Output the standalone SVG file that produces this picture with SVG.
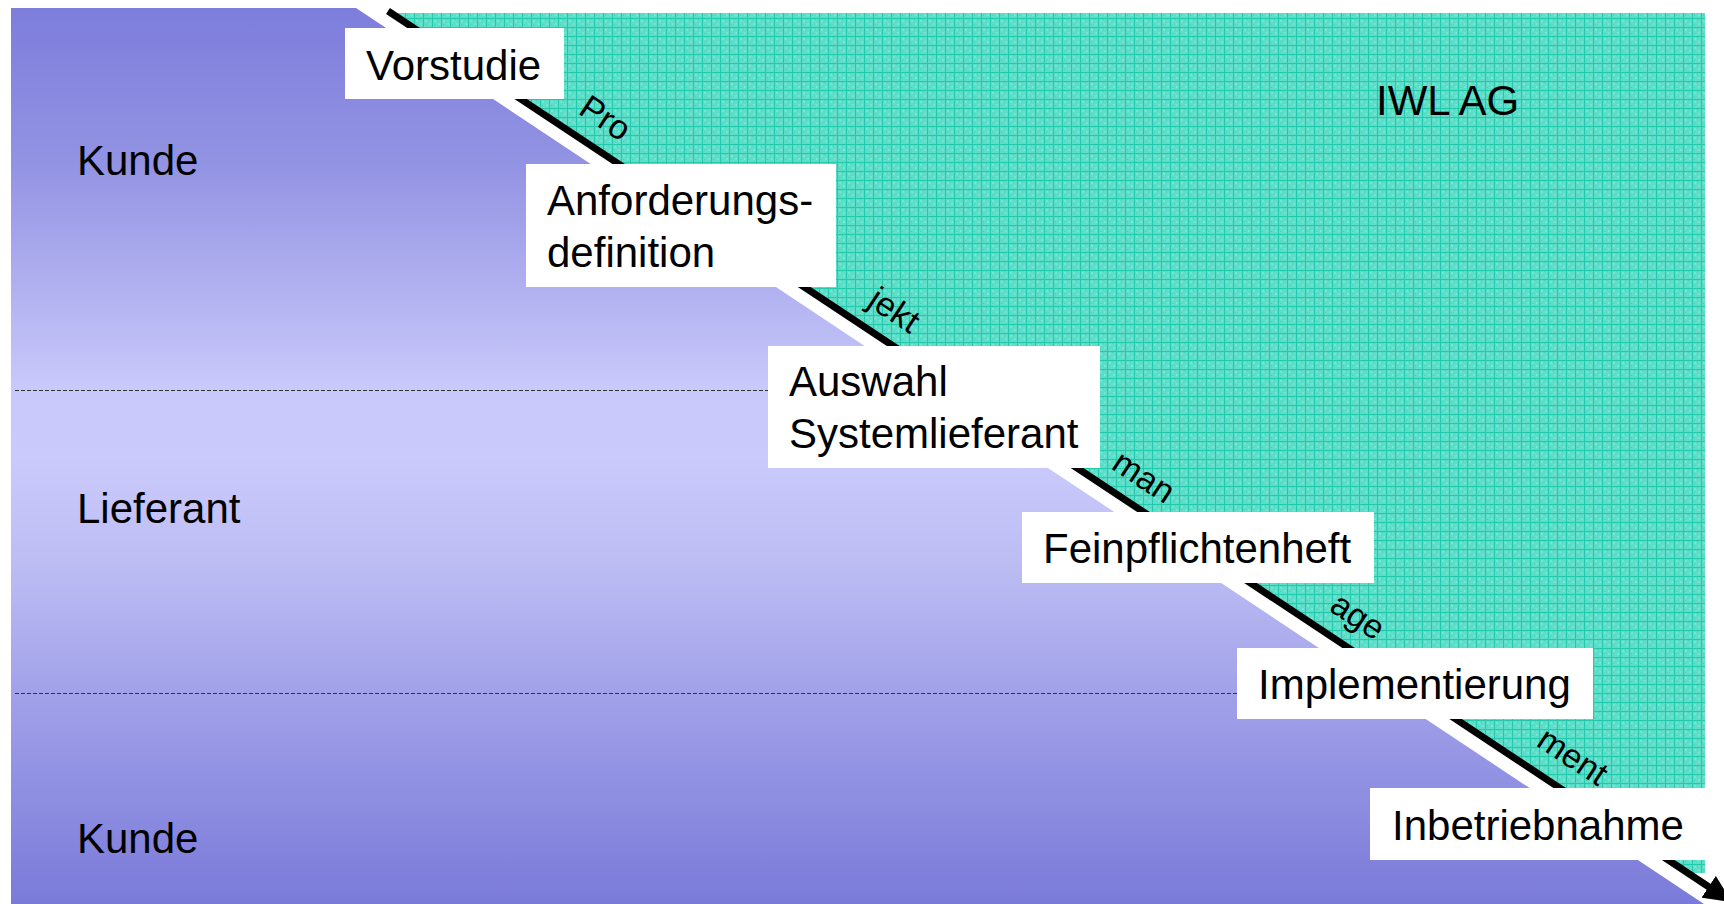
<svg xmlns="http://www.w3.org/2000/svg" width="1724" height="904" viewBox="0 0 1724 904">
  <defs>
    <linearGradient id="blueGrad" gradientUnits="userSpaceOnUse" x1="0" y1="8" x2="0" y2="904">
      <stop offset="0" stop-color="#7d7ddc"/>
      <stop offset="0.18" stop-color="#9494e4"/>
      <stop offset="0.42" stop-color="#c8c8fa"/>
      <stop offset="0.5" stop-color="#cacafc"/>
      <stop offset="0.62" stop-color="#bdbdf4"/>
      <stop offset="0.76" stop-color="#a2a2ea"/>
      <stop offset="1" stop-color="#7a7ad9"/>
    </linearGradient>
    <pattern id="tealGrid" patternUnits="userSpaceOnUse" x="0" y="0" width="9" height="9">
      <rect width="9" height="9" fill="#5cdec8"/>
      <rect x="2" y="2" width="2" height="2" fill="#74e5d3"/>
      <rect x="6" y="5" width="2" height="2" fill="#74e5d3"/>
      <rect x="5" y="1" width="1" height="1" fill="#3fd6bd"/>
      <rect x="2" y="6" width="1" height="1" fill="#3fd6bd"/>
      <rect x="0" y="0" width="9" height="1" fill="#22c9ad"/>
      <rect x="0" y="0" width="1" height="9" fill="#22c9ad"/>
    </pattern>
    <marker id="arrowHead" markerUnits="userSpaceOnUse" markerWidth="30" markerHeight="26" refX="4" refY="13" orient="auto">
      <path d="M0,0 L28,13 L0,26 Z" fill="#000"/>
    </marker>
  </defs>
  <style>
    .lbl { font-family: "Liberation Sans", Arial, sans-serif; font-size: 42px; fill: #000; }
    .rot { font-family: "Liberation Sans", Arial, sans-serif; font-size: 34px; fill: #000; }
    .box { fill: #ffffff; stroke: none; }
    .sep { stroke: #333333; stroke-width: 1; stroke-dasharray: 4 2; fill: none; }
  </style>

  <rect width="1724" height="904" fill="#ffffff"/>

  <!-- background regions -->
  <g id="region-kunde-lieferant">
    <polygon points="11,8 356,8 1704,904 11,904" fill="url(#blueGrad)"/>
  </g>
  <g id="region-iwl">
    <polygon points="390,13 1705,13 1705,873 1687,873" fill="url(#tealGrid)"/>
  </g>

  <!-- separators -->
  <g id="separators">
    <line class="sep" x1="15" y1="390.5" x2="768" y2="390.5"/>
    <line class="sep" x1="15" y1="693.5" x2="1237" y2="693.5"/>
  </g>

  <!-- connectors -->
  <g id="connectors">
    <line x1="388" y1="11" x2="1712" y2="889" stroke="#000" stroke-width="7" marker-end="url(#arrowHead)"/>
  </g>

  <!-- lane labels -->
  <g id="lane-kunde-top"><text class="lbl" x="77" y="175">Kunde</text></g>
  <g id="lane-lieferant"><text class="lbl" x="77" y="523">Lieferant</text></g>
  <g id="lane-kunde-bottom"><text class="lbl" x="77" y="853">Kunde</text></g>
  <g id="lane-iwl"><text class="lbl" x="1376" y="115">IWL AG</text></g>

  <!-- project management labels along the arrow -->
  <g id="pm-labels">
    <text class="rot" transform="translate(577,113) rotate(33.5)">Pro</text>
    <text class="rot" transform="translate(866,305) rotate(33.5)">jekt</text>
    <text class="rot" transform="translate(1110,468) rotate(33.5)">man</text>
    <text class="rot" transform="translate(1328,610) rotate(33.5)">age</text>
    <text class="rot" transform="translate(1535,745) rotate(33.5)">ment</text>
  </g>

  <!-- phase nodes -->
  <g id="node-vorstudie">
    <rect class="box" x="345" y="28" width="219" height="71"/>
    <text class="lbl" x="366" y="80">Vorstudie</text>
  </g>
  <g id="node-anforderungsdefinition">
    <rect class="box" x="526" y="164" width="310" height="123"/>
    <text class="lbl" x="547" y="215">Anforderungs-</text>
    <text class="lbl" x="547" y="267">definition</text>
  </g>
  <g id="node-auswahl">
    <rect class="box" x="768" y="346" width="332" height="122"/>
    <text class="lbl" x="789" y="396">Auswahl</text>
    <text class="lbl" x="789" y="448">Systemlieferant</text>
  </g>
  <g id="node-feinpflichtenheft">
    <rect class="box" x="1022" y="512" width="352" height="71"/>
    <text class="lbl" x="1043" y="563">Feinpflichtenheft</text>
  </g>
  <g id="node-implementierung">
    <rect class="box" x="1237" y="648" width="356" height="71"/>
    <text class="lbl" x="1258" y="699">Implementierung</text>
  </g>
  <g id="node-inbetriebnahme">
    <rect class="box" x="1370" y="788" width="344" height="72"/>
    <text class="lbl" x="1392" y="840">Inbetriebnahme</text>
  </g>
</svg>
